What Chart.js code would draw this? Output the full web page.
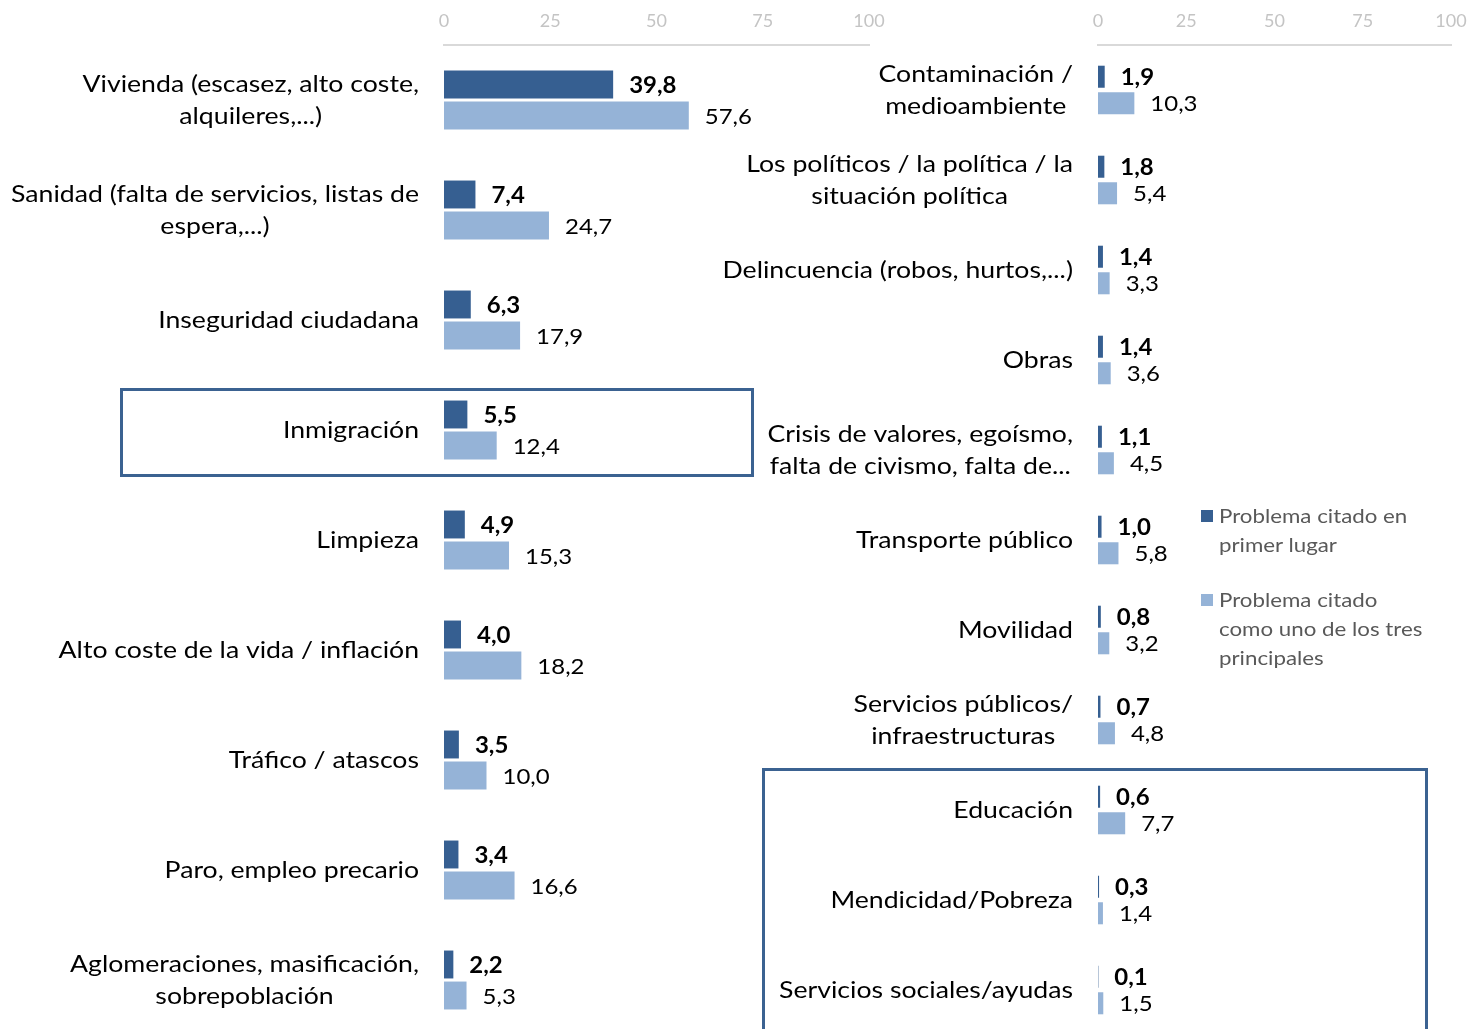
<!DOCTYPE html>
<html lang="es">
<head>
<meta charset="utf-8">
<title>Problemas citados</title>
<script src="https://cdn.jsdelivr.net/npm/chart.js@4.4.1/dist/chart.umd.min.js"></script>
<style>
    html, body { margin: 0; padding: 0; background: #fff; overflow: hidden; }
    #wrap { position: relative; width: 1468px; height: 1029px; overflow: hidden; }
    #wrap canvas { position: absolute; left: 0; top: 0; }
    .box { position: absolute; border: 3px solid #3b6291; box-sizing: border-box; pointer-events: none; }
    .legend-item { position: absolute; left: 1201px; font-family: Lato, sans-serif; font-size: 20px; color: #595959; line-height: 29px; }
    .legend-item .sw { position: absolute; left: 0; top: 9px; width: 12px; height: 12px; }
    .legend-item .tx { margin-left: 18px; white-space: nowrap; transform: scaleX(1.115); transform-origin: 0 0; }
</style>
</head>
<body>
<div id="wrap">
    <canvas id="left-chart" width="1468" height="1040"></canvas>
    <canvas id="right-chart" width="1468" height="1040"></canvas>
    <div class="box" style="left:120px; top:388px; width:634px; height:89px;"></div>
    <div class="box" style="left:762px; top:768px; width:666px; height:300px;"></div>
    <div class="legend-item" style="top:501px;">
        <span class="sw" style="background:#365f91"></span>
        <div class="tx">Problema citado en<br>primer lugar</div>
    </div>
    <div class="legend-item" style="top:585px;">
        <span class="sw" style="background:#95b3d7"></span>
        <div class="tx">Problema citado<br>como uno de los tres<br>principales</div>
    </div>
</div>
<script>
// Left panel
const leftCategories = [
    ['Vivienda (escasez, alto coste,', 'alquileres,...)'],
    ['Sanidad (falta de servicios, listas de', 'espera,...)'],
    'Inseguridad ciudadana',
    'Inmigración',
    'Limpieza',
    'Alto coste de la vida / inflación',
    'Tráfico / atascos',
    'Paro, empleo precario',
    ['Aglomeraciones, masificación,', 'sobrepoblación']
];
const leftFirst = [39.8, 7.4, 6.3, 5.5, 4.9, 4.0, 3.5, 3.4, 2.2];
const leftTopThree = [57.6, 24.7, 17.9, 12.4, 15.3, 18.2, 10.0, 16.6, 5.3];

// Right panel
const rightCategories = [
    ['Contaminación /', 'medioambiente'],
    ['Los políticos / la política / la', 'situación política'],
    'Delincuencia (robos, hurtos,...)',
    'Obras',
    ['Crisis de valores, egoísmo,', 'falta de civismo, falta de...'],
    'Transporte público',
    'Movilidad',
    ['Servicios públicos/', 'infraestructuras'],
    'Educación',
    'Mendicidad/Pobreza',
    'Servicios sociales/ayudas'
];
const rightFirst = [1.9, 1.8, 1.4, 1.4, 1.1, 1.0, 0.8, 0.7, 0.6, 0.3, 0.1];
const rightTopThree = [10.3, 5.4, 3.3, 3.6, 4.5, 5.8, 3.2, 4.8, 7.7, 1.4, 1.5];

const axisTicks = [0, 25, 50, 75, 100];
const seriesNames = ['Problema citado en primer lugar', 'Problema citado como uno de los tres principales'];

const DARK = '#365f91';
const LIGHT = '#95b3d7';

const fmt = v => v.toFixed(1).replace('.', ',');

// text in the reference is a bit wider than plain Lato
function wideText(ctx, text, x, y, sx) {
    ctx.save();
    ctx.translate(x, y);
    ctx.scale(sx, 1);
    ctx.textAlign = 'left';
    ctx.fillText(text, 0, 0);
    ctx.restore();
}

// category names + value labels drawn next to the bars
const sideLabels = {
    id: 'sideLabels',
    afterDatasetsDraw(chart) {
        const ctx = chart.ctx;
        const yScale = chart.scales.y;
        const rightEdge = chart.chartArea.left - 25;
        ctx.save();
        ctx.fillStyle = '#000';
        ctx.textBaseline = 'middle';

        const sxCat = 1.11;
        ctx.font = '24px Lato';
        chart.data.labels.forEach((lab, i) => {
            const lines = Array.isArray(lab) ? lab : [lab];
            const widths = lines.map(l => ctx.measureText(l).width * sxCat);
            const cx = rightEdge - Math.max(...widths) / 2;
            const yc = yScale.getPixelForValue(i);
            lines.forEach((l, k) => {
                wideText(ctx, l, cx - widths[k] / 2, yc + (k - (lines.length - 1) / 2) * 32, sxCat);
            });
        });

        chart.data.datasets.forEach((ds, di) => {
            ctx.font = (di === 0 ? 'bold ' : '') + '22px Lato';
            chart.getDatasetMeta(di).data.forEach((bar, i) => {
                wideText(ctx, fmt(ds.data[i]), bar.x + 16, bar.y + 1, 1.09);
            });
        });
        ctx.restore();
    }
};

function makeChart(canvasId, categories, first, topThree, areaLeft, areaRight, catPct, barPct) {
    const ctx = document.getElementById(canvasId).getContext('2d');
    return new Chart(ctx, {
        type: 'bar',
        data: {
            labels: categories,
            datasets: [
                { label: seriesNames[0], data: first, backgroundColor: DARK },
                { label: seriesNames[1], data: topThree, backgroundColor: LIGHT }
            ]
        },
        options: {
            indexAxis: 'y',
            responsive: false,
            animation: false,
            devicePixelRatio: 1,
            categoryPercentage: catPct,
            barPercentage: barPct,
            layout: { padding: { left: areaLeft, right: 1468 - areaRight, top: 0, bottom: 5 } },
            plugins: { legend: { display: false }, tooltip: { enabled: false } },
            scales: {
                x: {
                    position: 'top',
                    min: axisTicks[0],
                    max: axisTicks[axisTicks.length - 1],
                    afterBuildTicks: scale => { scale.ticks = axisTicks.map(v => ({ value: v })); },
                    afterFit: scale => {
                        scale.height = 45;
                        scale.paddingLeft = 0;
                        scale.paddingRight = 0;
                    },
                    grid: { display: false, drawTicks: false },
                    border: { display: true, color: '#d9d9d9', width: 2 },
                    ticks: { color: '#c4c4c4', padding: 13, font: { family: 'Lato', size: 18 } }
                },
                y: { display: false }
            }
        },
        plugins: [sideLabels]
    });
}

makeChart('left-chart', leftCategories, leftFirst, leftTopThree, 444, 869, 0.564, 0.9);
makeChart('right-chart', rightCategories, rightFirst, rightTopThree, 1098, 1451, 0.59, 0.83);
</script>
</body>
</html>
